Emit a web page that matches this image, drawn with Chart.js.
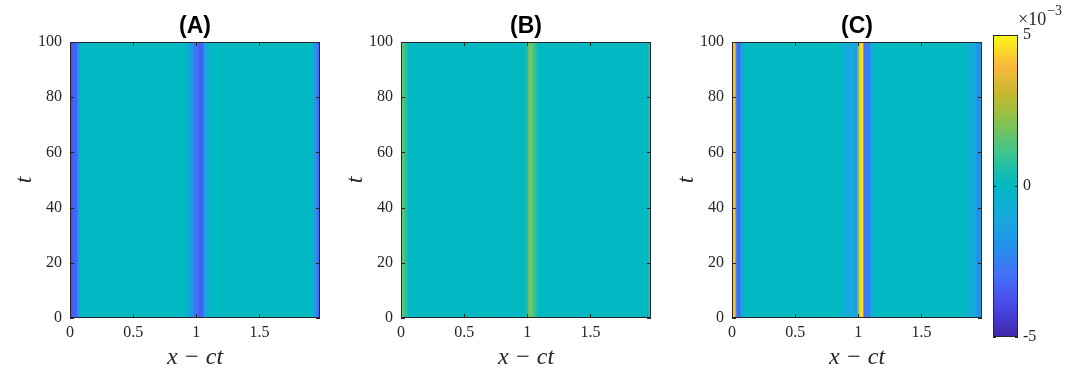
<!DOCTYPE html>
<html>
<head>
<meta charset="utf-8">
<script src="https://cdn.jsdelivr.net/npm/chart.js@4.4.0/dist/chart.umd.min.js"></script>
<style>
  body { margin: 0; background: #fff; }
  #wrap { position: relative; width: 1073px; height: 374px; overflow: hidden; }
  canvas { position: absolute; top: 0; }
</style>
</head>
<body>
<div id="wrap">
  <canvas id="panelA" width="335" height="374" style="left:0px"></canvas>
  <canvas id="panelB" width="335" height="374" style="left:331px"></canvas>
  <canvas id="panelC" width="335" height="374" style="left:662px"></canvas>
  <canvas id="cbar" width="98" height="374" style="left:975px"></canvas>
</div>
<script>
// band edges in x - ct, and the value (x 1e-3) between each pair of edges
const aEdges = [0, 0.016, 0.055, 0.07, 0.935, 0.975, 1.015, 1.055, 1.095, 1.92, 1.95, 1.98]
const aValues = [-3.8, -3.3, -1.5, 0, -1.5, -2.8, -3.4, -1.2, 0, -1.5, -3.0]

const bEdges = [0, 0.024, 0.05, 0.983, 1.006, 1.038, 1.062, 1.086, 1.955, 1.98]
const bValues = [1.6, 0.7, 0, 0.6, 2.0, 1.1, 0.4, 0, 0.6]

const cEdges = [0, 0.022, 0.03, 0.045, 0.062, 0.087, 0.88, 0.97, 0.99, 1.006, 1.038, 1.054, 1.094, 1.117, 1.87, 1.935, 1.965, 1.98]
const cValues = [4.2, 1.8, -2.8, -3.3, -1.4, 0, -1.0, -1.8, 2.0, 4.5, -3.0, -2.4, -1.0, 0, -1.0, -2.2, -1.2]

const xTicks = [0, 0.5, 1, 1.5]
const tTicks = [0, 20, 40, 60, 80, 100]
const cbarTicks = [-5, 0, 5]

// parula-like colour map, one colour per unit from -5 to 5
const cmapColors = [[62,38,168],[72,70,230],[70,110,250],[35,145,235],[22,170,220],[0,184,194],[55,196,150],[125,195,85],[195,185,45],[252,185,60],[249,250,20]]

const ink = '#262626'
const serif = 'Liberation Serif'

function colorFor(v) {
  let p = (v + 5) / 10 * (cmapColors.length - 1)
  p = Math.max(0, Math.min(cmapColors.length - 1, p))
  const i = Math.min(Math.floor(p), cmapColors.length - 2)
  const f = p - i
  const c = cmapColors[i].map((c0, k) => Math.round(c0 + (cmapColors[i + 1][k] - c0) * f))
  return 'rgb(' + c.join(',') + ')'
}

// box round the axes with inward ticks, like matlab
const boxTicks = {
  id: 'boxTicks',
  afterDatasetsDraw(chart, args, opts) {
    const {ctx, chartArea: a, scales} = chart
    ctx.save()
    ctx.strokeStyle = ink
    ctx.lineWidth = 1
    ctx.strokeRect(Math.round(a.left) + 0.5, Math.round(a.top) + 0.5, Math.round(a.width) - 1, Math.round(a.height) - 1)
    ctx.beginPath()
    if (opts.xScale) {
      scales[opts.xScale].ticks.forEach(t => {
        const px = Math.round(scales[opts.xScale].getPixelForValue(t.value)) + 0.5
        ctx.moveTo(px, a.bottom); ctx.lineTo(px, a.bottom - 4)
        ctx.moveTo(px, a.top); ctx.lineTo(px, a.top + 4)
      })
    }
    if (opts.yScale) {
      scales[opts.yScale].ticks.forEach(t => {
        const py = Math.round(scales[opts.yScale].getPixelForValue(t.value)) + 0.5
        ctx.moveTo(a.left, py); ctx.lineTo(a.left + opts.len, py)
        ctx.moveTo(a.right, py); ctx.lineTo(a.right - opts.len, py)
      })
    }
    ctx.stroke()
    ctx.restore()
  }
}

function makePanel(id, title, edges, values) {
  const datasets = values.map((v, i) => ({
    data: [[edges[i], edges[i + 1]]],
    backgroundColor: colorFor(v),
    borderWidth: 0,
    grouped: false,
    barPercentage: 1,
    categoryPercentage: 1,
    yAxisID: 'y'
  }))

  new Chart(document.getElementById(id), {
    type: 'bar',
    data: { labels: [''], datasets: datasets },
    options: {
      indexAxis: 'y',
      responsive: false,
      animation: false,
      layout: { padding: { right: 15 } },
      scales: {
        x: {
          type: 'linear', position: 'bottom', min: 0, max: 1.98, offset: false,
          afterBuildTicks: s => { s.ticks = xTicks.map(v => ({ value: v })) },
          ticks: { color: ink, font: { family: serif, size: 16 }, padding: 5, callback: v => String(v) },
          grid: { display: false, drawTicks: false },
          border: { display: false },
          title: { display: true, text: 'x − ct', color: ink, font: { family: serif, size: 24, style: 'italic' }, padding: { top: 0, bottom: 2 } },
          afterFit: s => { s.height = 56 }
        },
        y: { type: 'category', display: false },
        t: {
          type: 'linear', position: 'left', min: 0, max: 100, offset: false,
          afterBuildTicks: s => { s.ticks = tTicks.map(v => ({ value: v })) },
          ticks: { color: ink, font: { family: serif, size: 16 }, padding: 8, callback: v => String(v) },
          grid: { display: false, drawTicks: false, offset: false },
          border: { display: false },
          title: { display: true, text: 't', color: ink, font: { family: serif, size: 24, style: 'italic' }, padding: { top: 10, bottom: 0 } },
          afterFit: s => { s.width = 70 }
        }
      },
      plugins: {
        legend: { display: false },
        tooltip: { enabled: false },
        title: {
          display: true, text: title, fullSize: false, color: '#000',
          font: { family: 'Liberation Sans', size: 23, weight: 'bold' },
          padding: { top: 13.2, bottom: 1.2 }
        },
        boxTicks: { xScale: 'x', yScale: 't', len: 4 }
      }
    },
    plugins: [boxTicks]
  })
}

makePanel('panelA', '(A)', aEdges, aValues)
makePanel('panelB', '(B)', bEdges, bValues)
makePanel('panelC', '(C)', cEdges, cValues)

// the ×10^-3 exponent over the colour bar
const exponentLabel = {
  id: 'exponentLabel',
  afterDraw(chart) {
    const {ctx, chartArea: a} = chart
    ctx.save()
    ctx.fillStyle = ink
    ctx.textBaseline = 'alphabetic'
    ctx.font = '18px ' + serif
    const x0 = a.left + 25
    ctx.fillText('×10', x0, a.top - 10)
    const w = ctx.measureText('×10').width
    ctx.font = '14px ' + serif
    ctx.fillText('−3', x0 + w + 1, a.top - 20)
    ctx.restore()
  }
}

new Chart(document.getElementById('cbar'), {
  type: 'bar',
  data: {
    labels: [''],
    datasets: [{
      data: [[cbarTicks[0], cbarTicks[cbarTicks.length - 1]]],
      borderWidth: 0,
      barPercentage: 1,
      categoryPercentage: 1,
      backgroundColor: ctx => {
        const area = ctx.chart.chartArea
        if (!area) return colorFor(0)
        const g = ctx.chart.ctx.createLinearGradient(0, area.bottom, 0, area.top)
        cmapColors.forEach((c, i) => g.addColorStop(i / (cmapColors.length - 1), 'rgb(' + c.join(',') + ')'))
        return g
      }
    }]
  },
  options: {
    responsive: false,
    animation: false,
    layout: { padding: { left: 18, top: 35, bottom: 37 } },
    scales: {
      x: { display: false },
      y: {
        type: 'linear', position: 'right', min: -5, max: 5,
        afterBuildTicks: s => { s.ticks = cbarTicks.map(v => ({ value: v })) },
        ticks: { color: ink, font: { family: serif, size: 16 }, padding: 5, callback: v => String(v) },
        grid: { display: false, drawTicks: false },
        border: { display: false },
        afterFit: s => { s.width = 55 }
      }
    },
    plugins: {
      legend: { display: false },
      tooltip: { enabled: false },
      boxTicks: { yScale: 'y', len: 3 }
    }
  },
  plugins: [boxTicks, exponentLabel]
})
</script>
</body>
</html>
